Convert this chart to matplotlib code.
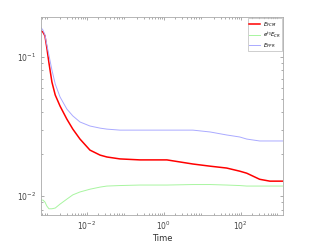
import matplotlib

matplotlib.use("Agg")
import matplotlib.pyplot as plt
from matplotlib.ticker import LogLocator, NullFormatter

# time samples (log spaced)
t = [6.5e-4, 7.2e-4, 8.1e-4, 9.1e-4, 1.03e-3, 1.23e-3, 1.5e-3, 2.0e-3, 3.0e-3,
     4.3e-3, 6.6e-3, 0.012, 0.022, 0.033, 0.072, 0.24, 1.2, 5.7, 16, 43, 94,
     143, 310, 570, 1230]

e_fcm = [0.154, 0.151, 0.142, 0.116, 0.0906, 0.0661, 0.0533, 0.0444, 0.0358,
         0.0303, 0.0257, 0.0214, 0.0197, 0.0191, 0.0185, 0.0182, 0.0182, 0.0170,
         0.0164, 0.0159, 0.0151, 0.0146, 0.0132, 0.0128, 0.0128]

e_cr = [0.00935, 0.00935, 0.00906, 0.00847, 0.0081, 0.0081, 0.0082, 0.00875,
        0.0095, 0.0102, 0.0107, 0.0112, 0.0116, 0.0118, 0.0119, 0.0120, 0.0120,
        0.0121, 0.0121, 0.0120, 0.0119, 0.0118, 0.0118, 0.0118, 0.0118]

e_fpr = [0.162, 0.156, 0.144, 0.122, 0.103, 0.0806, 0.0640, 0.0516, 0.0423,
         0.0377, 0.0341, 0.0319, 0.0308, 0.0303, 0.0298, 0.0298, 0.0298, 0.0298,
         0.0289, 0.0275, 0.0266, 0.0257, 0.0249, 0.0249, 0.0249]

labels = ["$E_{FCM}$", "$e^{t_0}E_{CR}$", "$E_{FPR}$"]

fig = plt.figure(figsize=(3.13, 2.43), dpi=100)
ax = fig.add_axes([0.131, 0.115, 0.773, 0.815])

ax.plot(t, e_fcm, color="#ff0000", lw=1.1, label=labels[0])
ax.plot(t, e_cr, color="#a8f5a0", lw=0.7, label=labels[1])
ax.plot(t, e_fpr, color="#aaaaff", lw=0.7, label=labels[2])

ax.set_xscale("log")
ax.set_yscale("log")
ax.set_xlim(6.4e-4, 1.25e3)
ax.set_ylim(0.0073, 0.194)

ax.set_xticks([1e-2, 1e0, 1e2])
ax.set_xticklabels(["$10^{-2}$", "$10^{0}$", "$10^{2}$"])
ax.xaxis.set_minor_locator(LogLocator(base=10, subs=range(2, 10), numticks=20))
ax.xaxis.set_minor_formatter(NullFormatter())
ax.set_yticks([1e-2, 1e-1])
ax.set_yticklabels(["$10^{-2}$", "$10^{-1}$"])
ax.yaxis.set_minor_formatter(NullFormatter())

ax.tick_params(which="both", direction="in", top=True, right=True,
               colors="#888888", labelcolor="#444444", labelsize=5.5, width=0.5)
ax.tick_params(which="major", length=2.5)
ax.tick_params(which="minor", length=1.3)
for s in ax.spines.values():
    s.set_color("#aaaaaa")
    s.set_linewidth(0.6)

ax.set_xlabel("Time", fontsize=6, color="#333333", labelpad=1)

leg = ax.legend(loc="upper right", fontsize=4, frameon=True, fancybox=False,
                handlelength=2.0, handletextpad=0.4, borderpad=0.25,
                labelspacing=0.2, borderaxespad=0.25)
leg.get_frame().set_edgecolor("#aaaaaa")
leg.get_frame().set_linewidth(0.5)

fig.savefig("out.png", dpi=100)
